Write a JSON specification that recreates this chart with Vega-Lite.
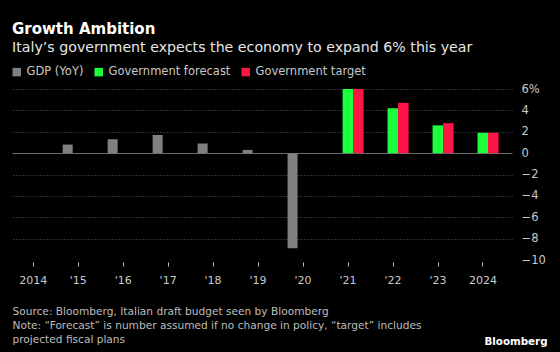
{
  "$schema": "https://vega.github.io/schema/vega-lite/v6.json",
  "width": 500,
  "height": 171,
  "autosize": {"type": "none"},
  "padding": {"left": 12, "top": 89, "right": 48, "bottom": 92},
  "background": "#000000",
  "config": {
    "view": {"stroke": null},
    "font": "DejaVu Sans"
  },
  "title": {
    "text": "Growth Ambition",
    "subtitle": "Italy’s government expects the economy to expand 6% this year",
    "anchor": "start",
    "frame": "group",
    "orient": "top",
    "font": "DejaVu Sans",
    "fontSize": 15,
    "fontWeight": "bold",
    "color": "#ffffff",
    "subtitleFont": "DejaVu Sans",
    "subtitleFontSize": 14.2,
    "subtitleColor": "#e6e6e6",
    "subtitlePadding": 4,
    "offset": 11
  },
  "data": {
    "values": [
      {"year": 2014, "series": "GDP (YoY)", "value": 0.0},
      {"year": 2015, "series": "GDP (YoY)", "value": 0.8},
      {"year": 2016, "series": "GDP (YoY)", "value": 1.3},
      {"year": 2017, "series": "GDP (YoY)", "value": 1.7},
      {"year": 2018, "series": "GDP (YoY)", "value": 0.9},
      {"year": 2019, "series": "GDP (YoY)", "value": 0.3},
      {"year": 2020, "series": "GDP (YoY)", "value": -8.9},
      {"year": 2021, "series": "Government forecast", "value": 6.0},
      {"year": 2022, "series": "Government forecast", "value": 4.2},
      {"year": 2023, "series": "Government forecast", "value": 2.6},
      {"year": 2024, "series": "Government forecast", "value": 1.9},
      {"year": 2021, "series": "Government target", "value": 6.0},
      {"year": 2022, "series": "Government target", "value": 4.7},
      {"year": 2023, "series": "Government target", "value": 2.8},
      {"year": 2024, "series": "Government target", "value": 1.9}
    ]
  },
  "encoding": {
    "x": {
      "field": "year",
      "type": "quantitative",
      "scale": {"domain": [2013.651, 2024.545], "nice": false, "zero": false},
      "axis": {
        "values": [2014, 2015, 2016, 2017, 2018, 2019, 2020, 2021, 2022, 2023, 2024],
        "labelExpr": "(datum.value == 2014 || datum.value == 2024) ? toString(datum.value) : \"'\" + slice(toString(datum.value), 2)",
        "domain": false,
        "grid": false,
        "ticks": true,
        "tickSize": 4,
        "tickColor": "#bbbbbb",
        "offset": 2,
        "labelFontSize": 11,
        "labelColor": "#c8c8c8",
        "labelPadding": 8,
        "labelFont": "DejaVu Sans",
        "title": ["Source: Bloomberg, Italian draft budget seen by Bloomberg", "Note: “Forecast” is number assumed if no change in policy, “target” includes", "projected fiscal plans"],
        "titleAnchor": "start",
        "titleAlign": "left",
        "titleBaseline": "top",
        "titleFont": "DejaVu Sans",
        "titleFontSize": 10.6,
        "titleFontWeight": "normal",
        "titleColor": "#bdbdbd",
        "titleLineHeight": 14,
        "titlePadding": 21
      }
    },
    "y": {
      "field": "value",
      "type": "quantitative",
      "scale": {"domain": [-10, 6], "nice": false},
      "axis": {
        "orient": "right",
        "values": [-10, -8, -6, -4, -2, 0, 2, 4, 6],
        "labelExpr": "datum.value == 6 ? '  6%' : datum.label",
        "domain": false,
        "ticks": false,
        "grid": true,
        "gridColor": {"condition": {"test": "datum.value == 0", "value": "#6e6e6e"}, "value": "#5a5a5a"},
        "gridDash": {"condition": {"test": "datum.value == 0", "value": []}, "value": [1, 2]},
        "gridOpacity": {"condition": {"test": "datum.value == -10", "value": 0}, "value": 1},
        "labelAlign": "left",
        "labelPadding": 9,
        "labelFontSize": 11.5,
        "labelColor": "#c8c8c8",
        "labelFont": "DejaVu Sans",
        "title": "Bloomberg",
        "titleAngle": 0,
        "titleAlign": "right",
        "titleBaseline": "alphabetic",
        "titleX": 35,
        "titleY": 255,
        "titleFont": "DejaVu Sans",
        "titleFontSize": 10.3,
        "titleFontWeight": "bold",
        "titleColor": "#ffffff"
      }
    },
    "color": {
      "field": "series",
      "type": "nominal",
      "scale": {
        "domain": ["GDP (YoY)", "Government forecast", "Government target"],
        "range": ["#808080", "#1cff3c", "#ff1446"]
      },
      "legend": {
        "orient": "none",
        "legendX": -1,
        "legendY": -23,
        "direction": "horizontal",
        "title": null,
        "symbolType": "square",
        "symbolSize": 72,
        "symbolStrokeWidth": 0,
        "symbolOpacity": 1,
        "labelFontSize": 11.5,
        "labelColor": "#c8c8c8",
        "labelFont": "DejaVu Sans",
        "labelOffset": 4,
        "columnPadding": 9
      }
    }
  },
  "layer": [
    {
      "transform": [{"filter": "datum.series == 'GDP (YoY)'"}],
      "mark": {"type": "bar", "width": 10, "xOffset": -10}
    },
    {
      "transform": [{"filter": "datum.series == 'Government forecast'"}],
      "mark": {"type": "bar", "width": 10.5, "xOffset": 0.3}
    },
    {
      "transform": [{"filter": "datum.series == 'Government target'"}],
      "mark": {"type": "bar", "width": 10.5, "xOffset": 10.8}
    }
  ]
}
